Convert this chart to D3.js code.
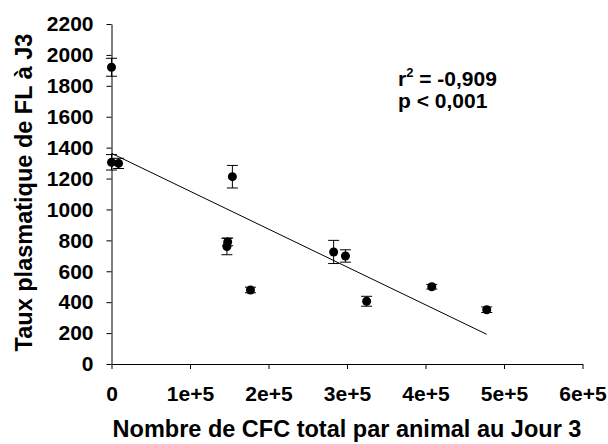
<!DOCTYPE html>
<html>
<head>
<meta charset="utf-8">
<script src="https://cdn.jsdelivr.net/npm/d3@7/dist/d3.min.js"></script>
<style>
  html, body { margin: 0; padding: 0; background: #fff; }
  svg { display: block; }
  text { font-family: "Liberation Sans", Arial, sans-serif; font-weight: bold; fill: #000; }
</style>
</head>
<body>
<svg id="chart" width="608" height="444"></svg>
<script>
// ---- data ----
const cfcTotal   = [0, 0, 9000, 147000, 148000, 154000, 177000, 283000, 298000, 325000, 408000, 478000];
const flLevel    = [1920, 1305, 1298, 760, 790, 1212, 479, 725, 699, 406, 500, 351];
const flError    = [58, 50, 33, 53, 25, 73, 18, 75, 40, 32, 15, 18];
const fitX       = [0, 478000];
const fitY       = [1363, 192];
const xTicks     = [0, 100000, 200000, 300000, 400000, 500000, 600000];
const xTickLabels= ["0", "1e+5", "2e+5", "3e+5", "4e+5", "5e+5", "6e+5"];
const yTicks     = [0, 200, 400, 600, 800, 1000, 1200, 1400, 1600, 1800, 2000, 2200];
const xTitle     = "Nombre de CFC total par animal au Jour 3";
const yTitle     = "Taux plasmatique de FL à J3";
const statLines  = ["r", "p < 0,001"];

const svg = d3.select("#chart");
const x = d3.scaleLinear().domain([0, 600000]).range([111.5, 582.5]);
const y = d3.scaleLinear().domain([0, 2200]).range([364, 24]);

// axes
const xAxis = d3.axisBottom(x).tickValues(xTicks)
  .tickFormat((d, i) => xTickLabels[i]).tickSize(5).tickSizeOuter(0).tickPadding(17);
const yAxis = d3.axisLeft(y).tickValues(yTicks)
  .tickFormat(d3.format("d")).tickSize(5).tickSizeOuter(0).tickPadding(13);

const gx = svg.append("g").attr("transform", `translate(0,${y(0)})`).call(xAxis);
const gy = svg.append("g").attr("transform", `translate(${x(0)},0)`).call(yAxis);
[gx, gy].forEach(g => {
  g.select(".domain").attr("stroke", "#000").attr("stroke-width", 1);
  g.selectAll(".tick line").attr("stroke", "#000").attr("stroke-width", 1);
  g.selectAll(".tick text").attr("font-family", "'Liberation Sans', Arial, sans-serif")
    .attr("font-weight", "bold").attr("font-size", 21).attr("fill", "#000");
});

// regression line
svg.append("line")
  .attr("x1", x(fitX[0])).attr("y1", y(fitY[0]))
  .attr("x2", x(fitX[1])).attr("y2", y(fitY[1]))
  .attr("stroke", "#000").attr("stroke-width", 1);

// error bars + points
const data = cfcTotal.map((v, i) => ({ x: v, y: flLevel[i], e: flError[i] }));
const eb = svg.append("g").attr("stroke", "#000").attr("stroke-width", 1);
data.forEach(d => {
  const cx = x(d.x);
  eb.append("line").attr("x1", cx).attr("x2", cx).attr("y1", y(d.y + d.e)).attr("y2", y(d.y - d.e));
  eb.append("line").attr("x1", cx - 5.5).attr("x2", cx + 5.5).attr("y1", y(d.y + d.e)).attr("y2", y(d.y + d.e));
  eb.append("line").attr("x1", cx - 5.5).attr("x2", cx + 5.5).attr("y1", y(d.y - d.e)).attr("y2", y(d.y - d.e));
});
svg.append("g").selectAll("circle").data(data).join("circle")
  .attr("cx", d => x(d.x)).attr("cy", d => y(d.y)).attr("r", 4.5).attr("fill", "#000");

// axis titles
svg.append("text").attr("x", 347).attr("y", 437).attr("text-anchor", "middle")
  .attr("font-size", 23.5).text(xTitle);
svg.append("text").attr("transform", "translate(32,192.5) rotate(-90)").attr("text-anchor", "middle")
  .attr("font-size", 23.5).text(yTitle);

// stats annotation
const t1 = svg.append("text").attr("x", 398).attr("y", 86).attr("font-size", 21);
t1.append("tspan").text(statLines[0]);
t1.append("tspan").attr("font-size", 13).attr("dy", -9).text("2");
t1.append("tspan").attr("dy", 9).text(" = -0,909");
svg.append("text").attr("x", 398).attr("y", 108).attr("font-size", 21).text(statLines[1]);
</script>
</body>
</html>
